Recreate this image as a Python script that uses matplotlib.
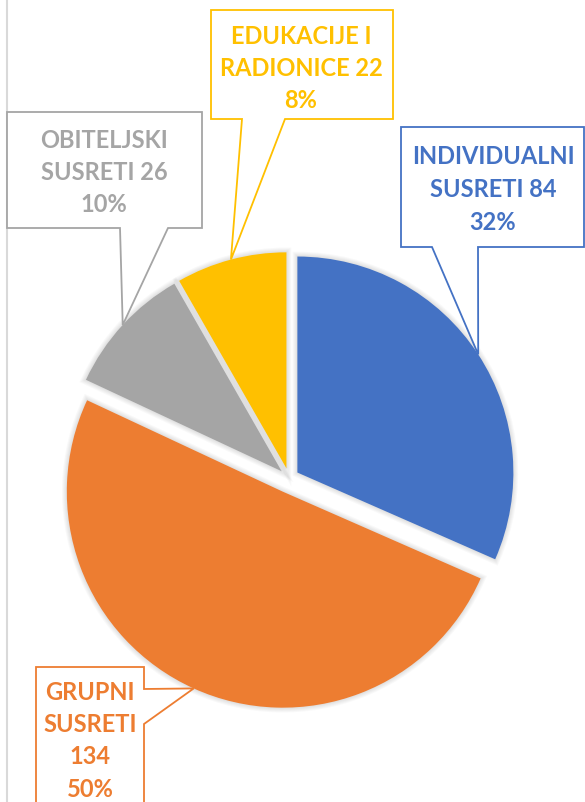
import numpy as np
import matplotlib
matplotlib.use("Agg")
import matplotlib.pyplot as plt
from matplotlib.patches import Polygon, Wedge

# data
categories = ["INDIVIDUALNI SUSRETI", "GRUPNI SUSRETI", "OBITELJSKI SUSRETI", "EDUKACIJE I RADIONICE"]
values = [84, 134, 26, 22]
colors = ["#4472C4", "#ED7D31", "#A5A5A5", "#FFC000"]

total = sum(values)
percents = [round(v * 100 / total) for v in values]

# label text lines (same wording as the chart, broken as in the original)
label_lines = [
    ["INDIVIDUALNI", f"SUSRETI {values[0]}", f"{percents[0]}%"],
    ["GRUPNI", "SUSRETI", f"{values[1]}", f"{percents[1]}%"],
    ["OBITELJSKI", f"SUSRETI {values[2]}", f"{percents[2]}%"],
    ["EDUKACIJE I", f"RADIONICE {values[3]}", f"{percents[3]}%"],
]

W, H = 585, 802
fig = plt.figure(figsize=(W / 100, H / 100), dpi=100)
ax = fig.add_axes([0, 0, 1, 1])

# axes in pixel units, y pointing down -> clockwise from top = counterclock, start -90
# explode is in data units (pixels) here because radius != 1
wedges, _ = ax.pie(values, explode=[10, 15, 10, 10], colors=colors, center=(289, 478), radius=216,
                   startangle=-90, counterclock=True, wedgeprops=dict(linewidth=0, zorder=2))
ax.set_xlim(0, W)
ax.set_ylim(H, 0)
ax.set_aspect("auto")
ax.axis("off")

# soft shadow round the slices
for w in wedges:
    for k in range(1, 6):
        ax.add_patch(Wedge(w.center, w.r, w.theta1, w.theta2, facecolor="none",
                           edgecolor="black", lw=k * 1.4, alpha=0.025, zorder=1))

# chart area border on the left
ax.plot([7, 7], [0, H], color="#D9D9D9", lw=1.5, zorder=0)

def apex(w):
    # point on the wedge arc at its middle angle
    a = np.deg2rad((w.theta1 + w.theta2) / 2)
    return w.center[0] + w.r * np.cos(a), w.center[1] + w.r * np.sin(a)

# callout boxes: (left, top, right, bottom, pointer a, pointer b, side)
boxes = [
    (401, 127, 584, 247, 432, 478, "bottom"),
    (36, 667, 144, 815, 689, 724, "right"),
    (7, 112, 202, 228, 120, 168, "bottom"),
    (211, 10, 393, 119, 242, 285, "bottom"),
]
text_pos = [(493, 156), (90, 691), (104, 139), (301, 35)]
line_step = 32.5

font = dict(family="Lato", weight="bold", size=17)

for w, box, (tx, ty), lines, col in zip(wedges, boxes, text_pos, label_lines, colors):
    L, T, R, B, p1, p2, side = box
    px, py = apex(w)
    if side == "bottom":
        pts = [(L, T), (R, T), (R, B), (p2, B), (px, py), (p1, B), (L, B)]
    else:
        pts = [(L, T), (R, T), (R, p1), (px, py), (R, p2), (R, B), (L, B)]
    ax.add_patch(Polygon(pts, closed=True, facecolor="white", edgecolor=col, lw=1.3, zorder=3))
    for i, s in enumerate(lines):
        ax.text(tx, ty + i * line_step + 8.5, s, color=col, ha="center", va="baseline",
                zorder=4, **font)

plt.savefig("out.png", dpi=100)
